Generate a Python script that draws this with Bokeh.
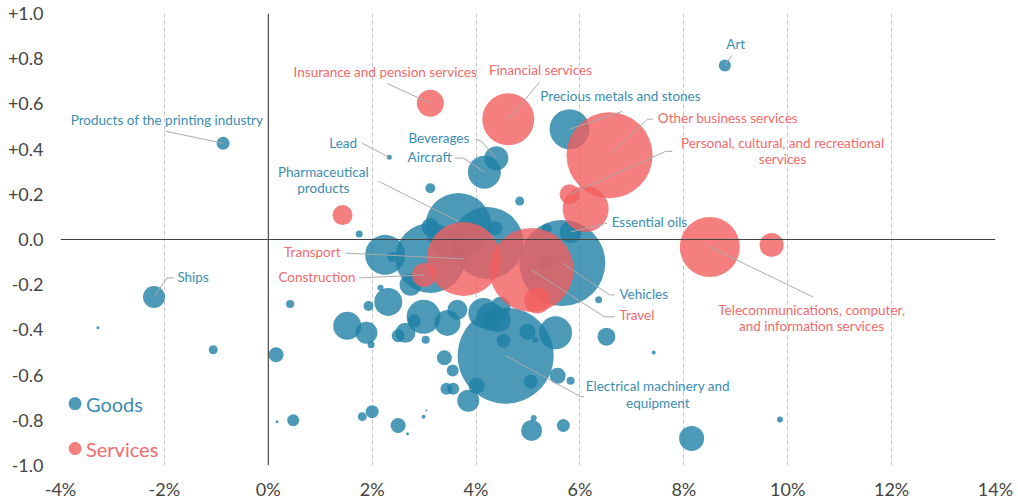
from bokeh.plotting import figure
from bokeh.models import FixedTicker, CustomJSTickFormatter, Span, ColumnDataSource, Range1d
from bokeh.core.properties import value
from bokeh.embed import file_html
from bokeh.resources import INLINE

# ---------------- data (x = growth %, y = index, size = bubble diameter) ----------------
goods_x = [8.79, -0.87, -2.20, 2.33, 4.39, 4.16, 5.80, 5.82, 3.66, 5.66, 4.57, 3.12, 4.22, 2.25,
           -3.28, -1.06, 0.15, 0.42, 0.17, 0.48, 1.75, 3.12, 4.84, 5.36, 6.36, 5.34, 4.37, 1.52,
           1.89, 1.98, 2.50, 2.64, 2.81, 2.99, 3.03, 3.39, 3.55, 3.43, 3.56, 3.85, 4.01, 1.81,
           2.00, 2.50, 2.68, 2.99, 3.04, 5.05, 5.57, 5.82, 6.51, 7.42, 5.07, 5.11, 5.68, 8.15,
           9.85, 4.53, 4.99, 5.14, 5.53, 4.28, 2.31, 3.45, 3.64, 4.14, 4.43, 4.47, 1.93, 2.16,
           2.74, 2.39, 3.12]
goods_y = [0.77, 0.426, -0.254, 0.364, 0.36, 0.298, 0.488, 0.033, 0.06, -0.104, -0.514, -0.082,
           -0.015, -0.068, -0.39, -0.488, -0.51, -0.285, -0.806, -0.80, 0.024, 0.227, 0.17, 0.046,
           -0.267, -0.104, 0.05, -0.382, -0.413, -0.466, -0.426, -0.413, -0.36, -0.342, -0.444,
           -0.523, -0.58, -0.66, -0.66, -0.713, -0.647, -0.784, -0.762, -0.823, -0.859, -0.784,
           -0.757, -0.629, -0.603, -0.625, -0.43, -0.50, -0.845, -0.79, -0.823, -0.88, -0.797,
           -0.448, -0.408, -0.444, -0.413, -0.342, -0.276, -0.369, -0.311, -0.325, -0.355, -0.298,
           -0.294, -0.214, -0.20, -0.077, 0.055]
goods_size = [12, 13, 22, 5, 24, 33, 40, 22, 66, 86, 96, 70, 72, 40,
              3, 9, 15, 8, 3, 12, 7, 10, 9, 10, 7, 16, 14, 28,
              22, 7, 13, 20, 13, 34, 8, 15, 12, 12, 12, 22, 16, 9,
              13, 15, 3, 4, 2, 14, 16, 8, 18, 4, 21, 6, 13, 25,
              6, 14, 16, 6, 33, 28, 28, 26, 20, 30, 25, 20, 10, 6,
              22, 10, 18]

services_x = [3.12, 4.62, 6.57, 5.80, 6.11, 3.76, 5.07, 5.18, 3.00, 1.43, 8.50, 9.69]
services_y = [0.603, 0.532, 0.373, 0.20, 0.135, -0.086, -0.135, -0.27, -0.157, 0.108, -0.033, -0.024]
services_size = [27, 52, 86, 20, 46, 74, 84, 26, 24, 20, 60, 24]

x_ticks = [-4, -2, 0, 2, 4, 6, 8, 10, 12, 14]
y_ticks = [-1.0, -0.8, -0.6, -0.4, -0.2, 0.0, 0.2, 0.4, 0.6, 0.8, 1.0]

legend_labels = ["Goods", "Services"]

GOODS_C = "#1f7fa6"
SERV_C = "#f25e5e"
GOODS_T = "#3b8db2"
SERV_T = "#f26a6a"

labels = [
    # (lines, x, y, align, group, leader points ending at the bubble)
    (["Art"], 9.0, 0.863, "center", "g", [(8.92, 0.814), (8.79, 0.77)]),
    (["Products of the printing industry"], -1.95, 0.528, "center", "g", [(-1.98, 0.479), (-0.87, 0.426)]),
    (["Ships"], -1.75, -0.166, "left", "g", [(-1.81, -0.17), (-1.95, -0.17), (-2.20, -0.254)]),
    (["Lead"], 1.71, 0.426, "right", "g", [(1.81, 0.426), (2.33, 0.364)]),
    (["Beverages"], 3.87, 0.448, "right", "g", [(3.99, 0.444), (4.10, 0.435), (4.39, 0.36)]),
    (["Aircraft"], 3.53, 0.364, "right", "g", [(3.60, 0.36), (3.76, 0.36), (4.16, 0.298)]),
    (["Pharmaceutical", "products"], 1.06, 0.298, "center", "g", [(2.12, 0.258), (3.66, 0.08)]),
    (["Insurance and pension services"], 2.25, 0.74, "center", "s", [(2.29, 0.69), (3.12, 0.603)]),
    (["Financial services"], 5.24, 0.748, "center", "s", [(5.22, 0.695), (4.62, 0.532)]),
    (["Precious metals and stones"], 6.78, 0.634, "center", "g", [(6.82, 0.567), (5.80, 0.488)]),
    (["Other business services"], 7.50, 0.536, "left", "s", [(7.40, 0.532), (7.30, 0.532), (6.62, 0.385)]),
    (["Personal, cultural, and recreational", "services"], 9.90, 0.426, "center", "s",
     [(7.78, 0.39), (7.65, 0.39), (5.80, 0.20)]),
    (["Essential oils"], 6.61, 0.077, "left", "g", [(6.53, 0.073), (5.82, 0.033)]),
    (["Transport"], 1.39, -0.055, "right", "s", [(1.48, -0.06), (3.76, -0.086)]),
    (["Construction"], 1.68, -0.166, "right", "s", [(1.75, -0.17), (3.00, -0.157)]),
    (["Vehicles"], 6.76, -0.24, "left", "g", [(6.67, -0.245), (6.57, -0.245), (5.66, -0.104)]),
    (["Travel"], 6.76, -0.333, "left", "s", [(6.67, -0.342), (6.47, -0.342), (5.07, -0.135)]),
    (["Telecommunications, computer,", "and information services"], 10.46, -0.311, "center", "s",
     [(10.48, -0.254), (8.50, -0.033)]),
    (["Electrical machinery and", "equipment"], 7.50, -0.65, "center", "g",
     [(6.08, -0.695), (6.01, -0.695), (4.57, -0.514)]),
]

# ---------------- figure ----------------
p = figure(width=1018, height=502, x_range=Range1d(-4, 14), y_range=Range1d(-1, 1),
           output_backend="svg", toolbar_location=None,
           min_border_left=60, min_border_right=23, min_border_top=13, min_border_bottom=36)
p.outline_line_color = None
p.background_fill_color = "white"
p.border_fill_color = "white"

FONT = "Lato"
for ax in (p.xaxis[0], p.yaxis[0]):
    ax.axis_line_color = None
    ax.major_tick_line_color = None
    ax.minor_tick_line_color = None
    ax.major_tick_out = 0
    ax.major_tick_in = 0
    ax.major_label_text_font = FONT
    ax.major_label_text_font_size = "18px"
    ax.major_label_text_color = "#444444"

p.xaxis.ticker = FixedTicker(ticks=x_ticks)
p.yaxis.ticker = FixedTicker(ticks=y_ticks)
p.xaxis.major_label_standoff = 12
p.yaxis.major_label_standoff = 17
p.xaxis.formatter = CustomJSTickFormatter(code="return tick.toFixed(0) + '%';")
p.yaxis.formatter = CustomJSTickFormatter(
    code="if (Math.abs(tick) < 1e-9) { return '0.0'; } return (tick > 0 ? '+' : '') + tick.toFixed(1);")

p.xgrid.ticker = FixedTicker(ticks=[t for t in x_ticks if t != 0])
p.xgrid.grid_line_color = "#c4c4c4"
p.xgrid.grid_line_dash = "4 3"
p.xgrid.grid_line_width = 1
p.ygrid.visible = False

p.add_layout(Span(location=0, dimension="height", line_color="#222222", line_width=1))
p.add_layout(Span(location=0, dimension="width", line_color="#444444", line_width=1.2))

# ---------------- bubbles ----------------
def sorted_src(xs, ys, ss):
    order = sorted(range(len(xs)), key=lambda i: -ss[i])
    return ColumnDataSource(dict(x=[xs[i] for i in order], y=[ys[i] for i in order],
                                 size=[ss[i] for i in order]))

p.scatter("x", "y", size="size", source=sorted_src(goods_x, goods_y, goods_size),
          marker="circle", fill_color=GOODS_C, fill_alpha=0.8, line_color=None)
p.scatter("x", "y", size="size", source=sorted_src(services_x, services_y, services_size),
          marker="circle", fill_color=SERV_C, fill_alpha=0.8, line_color=None)

# ---------------- leader lines ----------------
lx, ly = [], []
for lines, x, y, align, grp, pts in labels:
    lx.append([pt[0] for pt in pts])
    ly.append([pt[1] for pt in pts])
p.multi_line(lx, ly, line_color="#aaaaaa", line_width=1)

# ---------------- label texts ----------------
LINE_STEP = 0.072
for align in ("left", "right", "center"):
    d = dict(x=[], y=[], text=[], color=[])
    for lines, x, y, al, grp, pts in labels:
        if al != align:
            continue
        for k, t in enumerate(lines):
            d["x"].append(x)
            d["y"].append(y - k * LINE_STEP)
            d["text"].append(t)
            d["color"].append(GOODS_T if grp == "g" else SERV_T)
    p.text("x", "y", text="text", source=ColumnDataSource(d), text_align=align,
           text_baseline="middle", text_font=value(FONT), text_font_size="13.5px",
           text_color="color")

# ---------------- legend ----------------
leg_x = [-3.72, -3.72]
leg_y = [-0.726, -0.925]
p.scatter(leg_x, leg_y, size=13, marker="circle", fill_color=[GOODS_C, SERV_C],
          fill_alpha=0.8, line_color=None)
p.text([-3.51, -3.51], leg_y, text=legend_labels, text_align="left", text_baseline="middle",
       text_font=value(FONT), text_font_size="20px", text_color=[GOODS_T, SERV_T])

open("out.html", "w").write(file_html(p, INLINE))
